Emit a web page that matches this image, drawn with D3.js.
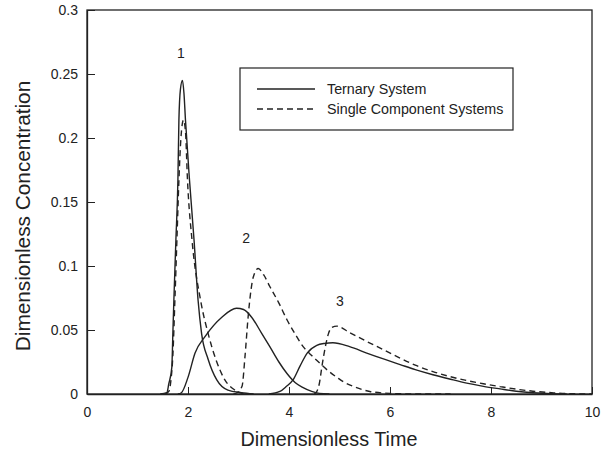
<!DOCTYPE html>
<html><head><meta charset="utf-8">
<script src="https://cdn.jsdelivr.net/npm/d3@7"></script>
<style>body{margin:0;background:#fff}svg{display:block}text{font-family:"Liberation Sans",Arial,sans-serif;fill:#222}</style>
</head><body><svg id="c" width="604" height="450"></svg>
<script>
const xTicks = [0, 2, 4, 6, 8, 10];
const yTicks = [0, 0.05, 0.1, 0.15, 0.2, 0.25, 0.3];
const yTickLabels = ["0", "0.05", "0.1", "0.15", "0.2", "0.25", "0.3"];
const seriesNames = ["Ternary System", "Single Component Systems"];
const peakLabels = ["1", "2", "3"];
const peakLabelPos = [[1.86, 0.2625], [3.15, 0.118], [5.01, 0.0688]];

const ternary1T = [1.45,1.58,1.62,1.68,1.70,1.72,1.76,1.80,1.82,1.85,1.89,1.92,1.95,2.03,2.12,2.20,2.27,2.40,2.57,2.79,3.06,3.3];
const ternary1C = [0,0.001,0.008,0.021,0.047,0.073,0.12,0.167,0.214,0.238,0.245,0.235,0.214,0.167,0.12,0.073,0.047,0.027,0.011,0.003,0.001,0];
const single1T = [1.55,1.62,1.66,1.70,1.74,1.78,1.82,1.86,1.91,1.95,1.99,2.08,2.25,2.40,2.57,2.73,2.93,3.1];
const single1C = [0,0.002,0.01,0.03,0.073,0.12,0.167,0.2,0.214,0.205,0.167,0.12,0.073,0.047,0.025,0.011,0.003,0];
const ternary2T = [1.80,1.87,2.0,2.14,2.34,2.67,2.96,3.1,3.26,3.45,3.62,3.8,3.96,4.12,4.28,4.45,4.6,4.8];
const ternary2C = [0,0.001,0.013,0.032,0.045,0.060,0.067,0.066,0.060,0.048,0.037,0.025,0.016,0.009,0.005,0.002,0.0005,0];
const single2T = [2.9,2.97,3.07,3.13,3.19,3.25,3.29,3.39,3.5,3.62,3.8,3.96,4.12,4.28,4.45,4.61,4.78,4.95,5.1,5.27,5.6,6.0,6.5,7.2];
const single2C = [0,0.001,0.006,0.03,0.06,0.082,0.091,0.098,0.093,0.084,0.071,0.058,0.047,0.037,0.030,0.024,0.018,0.013,0.009,0.006,0.002,0.0005,0,0];
const ternary3T = [3.6,3.82,3.95,4.08,4.22,4.36,4.55,4.7,4.87,5.2,5.54,5.9,6.2,6.5,6.85,7.2,7.52,7.85,8.18,8.5,8.83,9.2,9.5];
const ternary3C = [0,0.002,0.006,0.011,0.022,0.032,0.038,0.0395,0.040,0.037,0.032,0.027,0.023,0.019,0.015,0.0115,0.0085,0.006,0.004,0.0022,0.001,0.0002,0];
const single3T = [4.5,4.55,4.6,4.65,4.72,4.78,4.85,4.95,5.2,5.54,5.9,6.2,6.5,6.85,7.2,7.52,7.85,8.18,8.5,8.83,9.2,9.5,10];
const single3C = [0,0.002,0.008,0.021,0.037,0.047,0.052,0.053,0.048,0.041,0.034,0.028,0.0225,0.0175,0.0135,0.0105,0.008,0.0058,0.0038,0.0022,0.001,0.0003,0];

const svg = d3.select("#c");
const L = 87, R = 592, T = 10, B = 394;
const x = d3.scaleLinear().domain([0, 10]).range([L, R]);
const y = d3.scaleLinear().domain([0, 0.3]).range([B, T]);
const ink = "#222";

// frame
svg.append("rect").attr("x", L).attr("y", T).attr("width", R - L).attr("height", B - T)
  .attr("fill", "none").attr("stroke", ink).attr("stroke-width", 1.3);

// axes with inward ticks
const xAxis = d3.axisBottom(x).tickValues(xTicks).tickSizeInner(-7).tickSizeOuter(0).tickPadding(13)
  .tickFormat(d3.format("d"));
const gx = svg.append("g").attr("transform", `translate(0,${B})`).call(xAxis);
const yAxis = d3.axisLeft(y).tickValues(yTicks).tickSizeInner(-8).tickSizeOuter(0).tickPadding(9)
  .tickFormat((d, i) => yTickLabels[i]);
const gy = svg.append("g").attr("transform", `translate(${L},0)`).call(yAxis);
[gx, gy].forEach(g => {
  g.select(".domain").attr("stroke", ink).attr("stroke-width", 1.3);
  g.selectAll(".tick line").attr("stroke", ink).attr("stroke-width", 1);
  g.selectAll(".tick text").attr("font-size", 14).attr("font-family", "Liberation Sans, Arial, sans-serif").attr("fill", ink);
});

// axis titles
svg.append("text").attr("x", 329).attr("y", 446).attr("text-anchor", "middle")
  .attr("font-size", 19.8).text("Dimensionless Time");
svg.append("text").attr("transform", `translate(30,216) rotate(-90)`).attr("text-anchor", "middle")
  .attr("font-size", 20.8).text("Dimensionless Concentration");

// curves
const line = d3.line().x(d => x(d[0])).y(d => y(d[1])).curve(d3.curveMonotoneX);
const curves = [
  [ternary1T, ternary1C, false], [ternary2T, ternary2C, false], [ternary3T, ternary3C, false],
  [single1T, single1C, true], [single2T, single2C, true], [single3T, single3C, true]
];
curves.forEach(([ts, cs, dashed]) => {
  svg.append("path").datum(ts.map((t, i) => [t, cs[i]])).attr("d", line)
    .attr("fill", "none").attr("stroke", ink).attr("stroke-width", 1.4)
    .attr("stroke-dasharray", dashed ? "6,4" : null);
});

// peak labels
peakLabels.forEach((lab, i) => {
  svg.append("text").attr("x", x(peakLabelPos[i][0])).attr("y", y(peakLabelPos[i][1]))
    .attr("text-anchor", "middle").attr("font-size", 14).text(lab);
});

// legend
const lg = svg.append("g");
lg.append("rect").attr("x", 240).attr("y", 68).attr("width", 273).attr("height", 62)
  .attr("fill", "#fff").attr("stroke", ink).attr("stroke-width", 1.2);
seriesNames.forEach((name, i) => {
  const yy = 89 + i * 20;
  lg.append("line").attr("x1", 257).attr("x2", 315).attr("y1", yy).attr("y2", yy)
    .attr("stroke", ink).attr("stroke-width", 1.4).attr("stroke-dasharray", i ? "6,4" : null);
  lg.append("text").attr("x", 327).attr("y", yy + 5).attr("font-size", 14.3).text(name);
});
</script></body></html>
